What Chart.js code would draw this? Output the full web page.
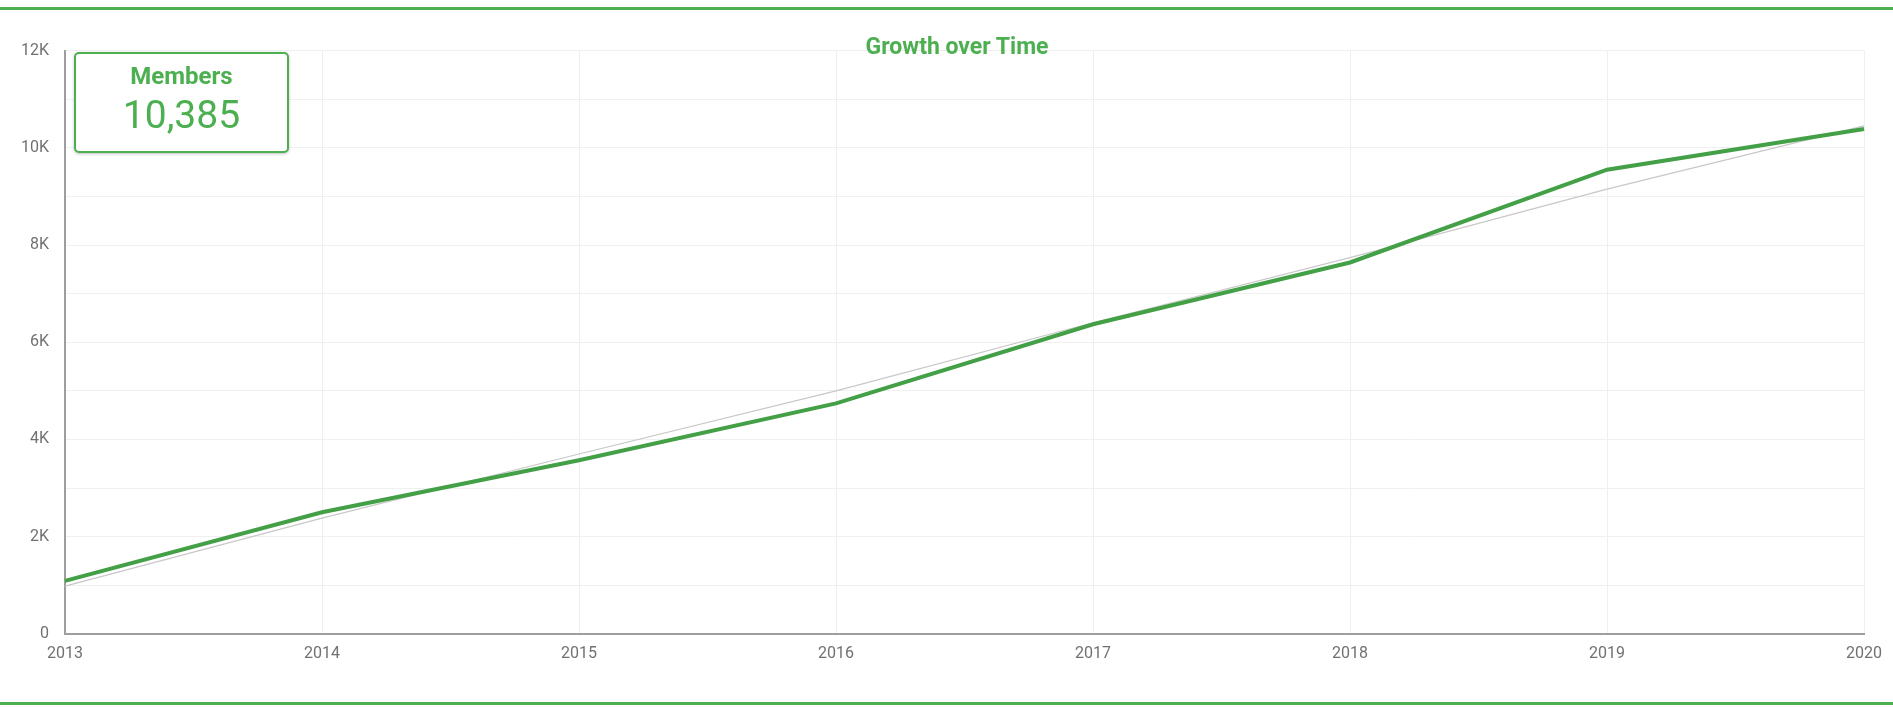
<!DOCTYPE html>
<html>
<head>
<meta charset="utf-8">
<script src="https://cdn.jsdelivr.net/npm/chart.js@4"></script>
<style>
  html, body { margin: 0; padding: 0; background: #fff; font-family: Roboto, sans-serif; }
  #page { position: relative; width: 1893px; height: 707px; overflow: hidden; }
  .rule { position: absolute; left: 0; width: 1893px; height: 3px; background: #4caf50; }
  #wrap { position: absolute; left: 0; top: 25px; width: 1893px; height: 650px; }
  #title { position: absolute; top: 33px; left: 0; width: 1914px; text-align: center;
           font-weight: bold; font-size: 23px; color: #4caf50; }
  #card { position: absolute; left: 74px; top: 52px; width: 211px; height: 97px;
          border: 2px solid #4caf50; border-radius: 5px; background: #fff;
          box-shadow: 0 1px 3px rgba(0,0,0,0.25); text-align: center; color: #4caf50; }
  #card .lbl { font-weight: bold; font-size: 24px; margin-top: 8px; line-height: 28px; }
  #card .val { font-size: 39px; line-height: 44px; margin-top: 3px; }
</style>
</head>
<body>
<div id="page">
  <div class="rule" style="top:7px"></div>
  <div id="wrap"><canvas id="growthChart"></canvas></div>
  <div id="title">Growth over Time</div>
  <div id="card">
    <div class="lbl">Members</div>
    <div class="val">10,385</div>
  </div>
  <div class="rule" style="top:702px"></div>
</div>
<script>
// data
const years = ['2013', '2014', '2015', '2016', '2017', '2018', '2019', '2020'];
const members = [1090, 2500, 3570, 4740, 6370, 7640, 9550, 10385];
const trend = [980, 2380, 3700, 5000, 6400, 7740, 9150, 10450];
const yTickLabels = { 0: '0', 2000: '2K', 4000: '4K', 6000: '6K', 8000: '8K', 10000: '10K', 12000: '12K' };

const green = '#43a047';

document.addEventListener('DOMContentLoaded', function() {
    new Chart(document.getElementById('growthChart'), {
        type: 'line',
        data: {
            labels: years,
            datasets: [{
                label: 'Members',
                data: members,
                borderColor: green,
                borderWidth: 4,
                pointRadius: 0,
                tension: 0
            }, {
                label: 'Trend',
                data: trend,
                borderColor: '#c8c8c8',
                borderWidth: 1.2,
                pointRadius: 0,
                tension: 0
            }]
        },
        options: {
            responsive: true,
            maintainAspectRatio: false,
            animation: false,
            layout: { padding: { left: 5, right: 6, top: 22, bottom: 0 } },
            plugins: {
                legend: { display: false },
                tooltip: { enabled: false }
            },
            scales: {
                x: {
                    offset: false,
                    grid: { color: '#efefef', lineWidth: 1, drawTicks: false },
                    border: { color: '#9e9e9e', width: 2 },
                    ticks: {
                        color: '#717171',
                        font: { family: 'Roboto', size: 16 },
                        padding: 11,
                        maxRotation: 0
                    }
                },
                y: {
                    min: 0,
                    max: 12000,
                    grid: { color: '#f0f0f0', lineWidth: 1, drawTicks: false },
                    border: { color: '#9e9e9e', width: 2 },
                    ticks: {
                        stepSize: 1000,
                        autoSkip: false,
                        color: '#717171',
                        font: { family: 'Roboto', size: 16 },
                        padding: 16,
                        callback: function(value) {
                            return yTickLabels[value] !== undefined ? yTickLabels[value] : '';
                        }
                    }
                }
            }
        }
    });
});
</script>
</body>
</html>
